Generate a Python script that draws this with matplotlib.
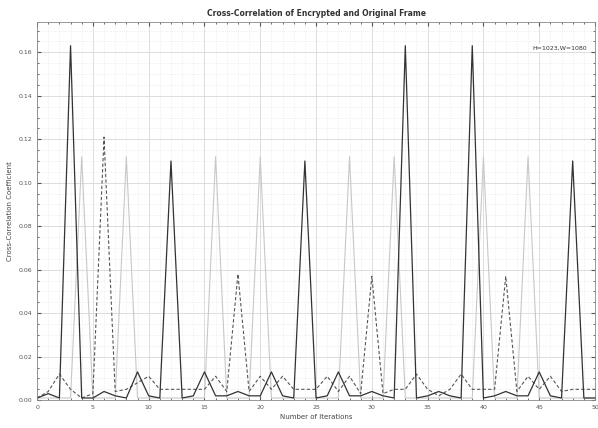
import numpy as np
import matplotlib.pyplot as plt
from matplotlib.ticker import MultipleLocator

# iterations 0..50
iters = np.arange(51)

dark = [0.001, 0.003, 0.001, 0.163, 0.001, 0.001, 0.004, 0.002, 0.001, 0.013,
        0.002, 0.001, 0.110, 0.001, 0.002, 0.013, 0.002, 0.002, 0.004, 0.002,
        0.002, 0.013, 0.002, 0.001, 0.110, 0.001, 0.002, 0.013, 0.002, 0.002,
        0.004, 0.002, 0.001, 0.163, 0.001, 0.002, 0.004, 0.002, 0.001, 0.163,
        0.001, 0.002, 0.004, 0.002, 0.002, 0.013, 0.002, 0.001, 0.110, 0.001,
        0.001]

dashed = [0.001, 0.004, 0.012, 0.005, 0.001, 0.003, 0.121, 0.004, 0.005, 0.008,
          0.011, 0.005, 0.005, 0.005, 0.005, 0.005, 0.011, 0.004, 0.058, 0.004,
          0.011, 0.005, 0.011, 0.005, 0.005, 0.005, 0.011, 0.004, 0.011, 0.003,
          0.057, 0.003, 0.005, 0.005, 0.012, 0.005, 0.002, 0.005, 0.012, 0.005,
          0.005, 0.005, 0.057, 0.004, 0.011, 0.005, 0.011, 0.004, 0.005, 0.005,
          0.005]

light = [0.001, 0.001, 0.001, 0.001, 0.112, 0.001, 0.001, 0.001, 0.112, 0.001,
         0.001, 0.001, 0.001, 0.001, 0.001, 0.001, 0.112, 0.001, 0.001, 0.001,
         0.112, 0.001, 0.001, 0.001, 0.001, 0.001, 0.001, 0.001, 0.112, 0.001,
         0.001, 0.001, 0.112, 0.001, 0.001, 0.001, 0.001, 0.001, 0.001, 0.001,
         0.112, 0.001, 0.001, 0.001, 0.112, 0.001, 0.001, 0.001, 0.001, 0.001,
         0.001]

fig = plt.figure(figsize=(5.98, 4.28), dpi=100)
ax = fig.add_axes([0.062, 0.065, 0.933, 0.884])

ax.plot(iters, light, color='#c8c8c8', lw=0.8)
ax.plot(iters, dashed, color='#555555', lw=0.8, ls='--', dashes=(3, 2))
ax.plot(iters, dark, color='#333333', lw=0.9)

ax.set_xlim(0, 50)
ax.set_ylim(0, 0.174)
ax.xaxis.set_major_locator(MultipleLocator(5))
ax.xaxis.set_minor_locator(MultipleLocator(1))
ax.yaxis.set_major_locator(MultipleLocator(0.02))
ax.yaxis.set_minor_locator(MultipleLocator(0.005))
ax.grid(which='major', color='#d8d8d8', lw=0.6, ls='-')
ax.grid(which='minor', color='#e4e4e4', lw=0.5, ls=':')
ax.tick_params(which='both', direction='in', top=True, right=True, labelsize=4.5, colors='#555555')
ax.tick_params(which='major', length=3)
ax.tick_params(which='minor', length=1.5)
for s in ax.spines.values():
    s.set_color('#888888')
    s.set_linewidth(0.6)

ax.set_title("Cross-Correlation of Encrypted and Original Frame", fontsize=5.5, fontweight='bold', color='#333333', pad=4)
ax.set_xlabel("Number of Iterations", fontsize=5, color='#444444', labelpad=3)
ax.set_ylabel("Cross-Correlation Coefficient", fontsize=5, color='#444444', labelpad=4)
ax.text(0.985, 0.93, "H=1023,W=1080", transform=ax.transAxes, ha='right', va='center', fontsize=4.5, color='#333333',
        bbox=dict(facecolor='white', edgecolor='none', pad=1))

fig.savefig("out.png", dpi=100)
